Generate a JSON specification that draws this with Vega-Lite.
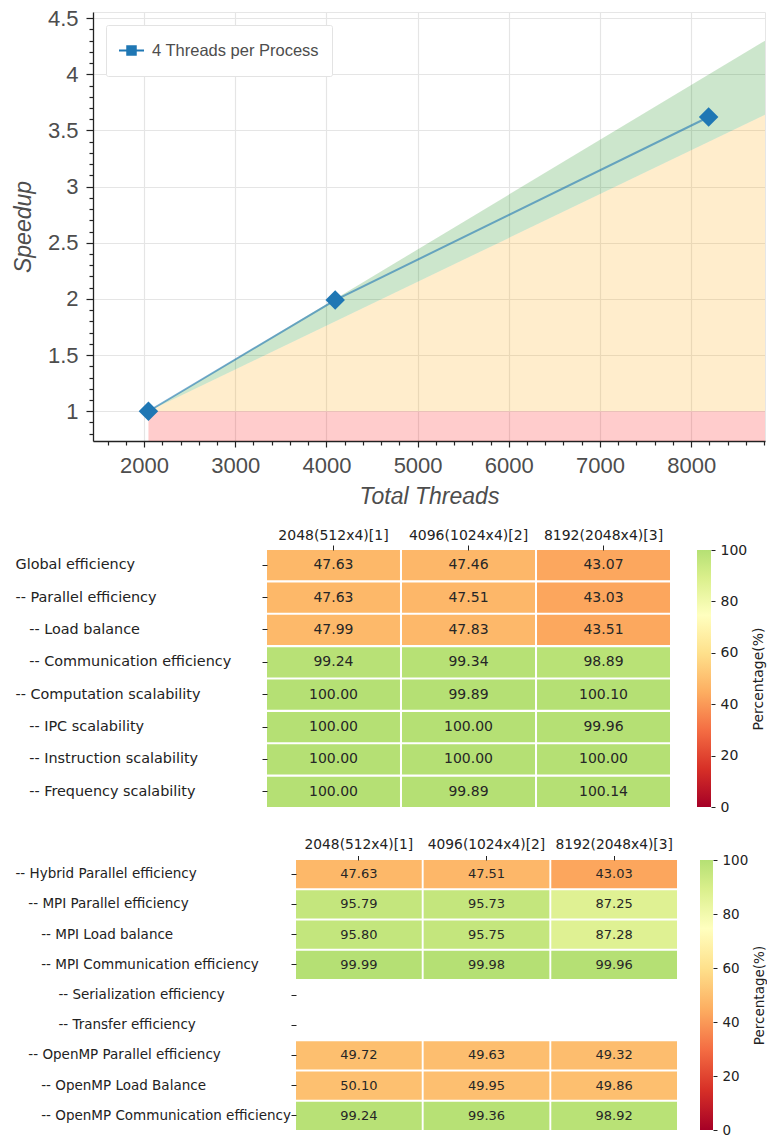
{
  "$schema": "https://vega.github.io/schema/vega-lite/v6.json",
  "padding": {"left": 10, "top": 6, "right": 0, "bottom": 0},
  "background": "white",
  "config": {"view": {"stroke": null}, "font": "DejaVu Sans"},
  "datasets": {
    "dummy": [{"a": 0}],
    "bands": [
      {"band": "red", "t": 2048, "s": 0.735, "s2": 1},
      {"band": "red", "t": 8810, "s": 0.735, "s2": 1},
      {"band": "orange", "t": 2048, "s": 1, "s2": 1},
      {"band": "orange", "t": 8810, "s": 1, "s2": 3.64},
      {"band": "green", "t": 2048, "s": 1, "s2": 1},
      {"band": "green", "t": 8810, "s": 3.64, "s2": 4.3}
    ],
    "speed": [
      {"t": 2048, "s": 1.0, "series": "4 Threads per Process"},
      {"t": 4096, "s": 1.99, "series": "4 Threads per Process"},
      {"t": 8192, "s": 3.62, "series": "4 Threads per Process"}
    ],
    "h1": [
      {"m": "Global efficiency", "c": "2048(512x4)[1]", "v": 47.63},
      {"m": "Global efficiency", "c": "4096(1024x4)[2]", "v": 47.46},
      {"m": "Global efficiency", "c": "8192(2048x4)[3]", "v": 43.07},
      {"m": "-- Parallel efficiency", "c": "2048(512x4)[1]", "v": 47.63},
      {"m": "-- Parallel efficiency", "c": "4096(1024x4)[2]", "v": 47.51},
      {"m": "-- Parallel efficiency", "c": "8192(2048x4)[3]", "v": 43.03},
      {"m": "\u200b\u00a0\u00a0\u00a0-- Load balance", "c": "2048(512x4)[1]", "v": 47.99},
      {"m": "\u200b\u00a0\u00a0\u00a0-- Load balance", "c": "4096(1024x4)[2]", "v": 47.83},
      {"m": "\u200b\u00a0\u00a0\u00a0-- Load balance", "c": "8192(2048x4)[3]", "v": 43.51},
      {"m": "\u200b\u00a0\u00a0\u00a0-- Communication efficiency", "c": "2048(512x4)[1]", "v": 99.24},
      {"m": "\u200b\u00a0\u00a0\u00a0-- Communication efficiency", "c": "4096(1024x4)[2]", "v": 99.34},
      {"m": "\u200b\u00a0\u00a0\u00a0-- Communication efficiency", "c": "8192(2048x4)[3]", "v": 98.89},
      {"m": "-- Computation scalability", "c": "2048(512x4)[1]", "v": 100.00},
      {"m": "-- Computation scalability", "c": "4096(1024x4)[2]", "v": 99.89},
      {"m": "-- Computation scalability", "c": "8192(2048x4)[3]", "v": 100.10},
      {"m": "\u200b\u00a0\u00a0\u00a0-- IPC scalability", "c": "2048(512x4)[1]", "v": 100.00},
      {"m": "\u200b\u00a0\u00a0\u00a0-- IPC scalability", "c": "4096(1024x4)[2]", "v": 100.00},
      {"m": "\u200b\u00a0\u00a0\u00a0-- IPC scalability", "c": "8192(2048x4)[3]", "v": 99.96},
      {"m": "\u200b\u00a0\u00a0\u00a0-- Instruction scalability", "c": "2048(512x4)[1]", "v": 100.00},
      {"m": "\u200b\u00a0\u00a0\u00a0-- Instruction scalability", "c": "4096(1024x4)[2]", "v": 100.00},
      {"m": "\u200b\u00a0\u00a0\u00a0-- Instruction scalability", "c": "8192(2048x4)[3]", "v": 100.00},
      {"m": "\u200b\u00a0\u00a0\u00a0-- Frequency scalability", "c": "2048(512x4)[1]", "v": 100.00},
      {"m": "\u200b\u00a0\u00a0\u00a0-- Frequency scalability", "c": "4096(1024x4)[2]", "v": 99.89},
      {"m": "\u200b\u00a0\u00a0\u00a0-- Frequency scalability", "c": "8192(2048x4)[3]", "v": 100.14}
    ],
    "h2": [
      {"m": "-- Hybrid Parallel efficiency", "c": "2048(512x4)[1]", "v": 47.63},
      {"m": "-- Hybrid Parallel efficiency", "c": "4096(1024x4)[2]", "v": 47.51},
      {"m": "-- Hybrid Parallel efficiency", "c": "8192(2048x4)[3]", "v": 43.03},
      {"m": "\u200b\u00a0\u00a0\u00a0-- MPI Parallel efficiency", "c": "2048(512x4)[1]", "v": 95.79},
      {"m": "\u200b\u00a0\u00a0\u00a0-- MPI Parallel efficiency", "c": "4096(1024x4)[2]", "v": 95.73},
      {"m": "\u200b\u00a0\u00a0\u00a0-- MPI Parallel efficiency", "c": "8192(2048x4)[3]", "v": 87.25},
      {"m": "\u200b\u00a0\u00a0\u00a0\u00a0\u00a0\u00a0-- MPI Load balance", "c": "2048(512x4)[1]", "v": 95.80},
      {"m": "\u200b\u00a0\u00a0\u00a0\u00a0\u00a0\u00a0-- MPI Load balance", "c": "4096(1024x4)[2]", "v": 95.75},
      {"m": "\u200b\u00a0\u00a0\u00a0\u00a0\u00a0\u00a0-- MPI Load balance", "c": "8192(2048x4)[3]", "v": 87.28},
      {"m": "\u200b\u00a0\u00a0\u00a0\u00a0\u00a0\u00a0-- MPI Communication efficiency", "c": "2048(512x4)[1]", "v": 99.99},
      {"m": "\u200b\u00a0\u00a0\u00a0\u00a0\u00a0\u00a0-- MPI Communication efficiency", "c": "4096(1024x4)[2]", "v": 99.98},
      {"m": "\u200b\u00a0\u00a0\u00a0\u00a0\u00a0\u00a0-- MPI Communication efficiency", "c": "8192(2048x4)[3]", "v": 99.96},
      {"m": "\u200b\u00a0\u00a0\u00a0-- OpenMP Parallel efficiency", "c": "2048(512x4)[1]", "v": 49.72},
      {"m": "\u200b\u00a0\u00a0\u00a0-- OpenMP Parallel efficiency", "c": "4096(1024x4)[2]", "v": 49.63},
      {"m": "\u200b\u00a0\u00a0\u00a0-- OpenMP Parallel efficiency", "c": "8192(2048x4)[3]", "v": 49.32},
      {"m": "\u200b\u00a0\u00a0\u00a0\u00a0\u00a0\u00a0-- OpenMP Load Balance", "c": "2048(512x4)[1]", "v": 50.10},
      {"m": "\u200b\u00a0\u00a0\u00a0\u00a0\u00a0\u00a0-- OpenMP Load Balance", "c": "4096(1024x4)[2]", "v": 49.95},
      {"m": "\u200b\u00a0\u00a0\u00a0\u00a0\u00a0\u00a0-- OpenMP Load Balance", "c": "8192(2048x4)[3]", "v": 49.86},
      {"m": "\u200b\u00a0\u00a0\u00a0\u00a0\u00a0\u00a0-- OpenMP Communication efficiency", "c": "2048(512x4)[1]", "v": 99.24},
      {"m": "\u200b\u00a0\u00a0\u00a0\u00a0\u00a0\u00a0-- OpenMP Communication efficiency", "c": "4096(1024x4)[2]", "v": 99.36},
      {"m": "\u200b\u00a0\u00a0\u00a0\u00a0\u00a0\u00a0-- OpenMP Communication efficiency", "c": "8192(2048x4)[3]", "v": 98.92}
    ]
  },
  "spacing": 19,
  "vconcat": [
    {
      "spacing": 0,
      "resolve": {"scale": {"color": "independent"}, "legend": {"color": "independent"}},
      "hconcat": [
        {"width": 1, "height": 1, "data": {"name": "dummy"}, "mark": {"type": "point", "opacity": 0, "size": 0}, "encoding": {}},
        {
          "width": 672,
          "height": 429,
          "view": {"stroke": "#e6e6e6"},
          "encoding": {
            "x": {
              "field": "t", "type": "quantitative", "title": "Total Threads",
              "scale": {"domain": [1440, 8810], "nice": false, "zero": false},
              "axis": {
                "values": [1600,1800,2000,2200,2400,2600,2800,3000,3200,3400,3600,3800,4000,4200,4400,4600,4800,5000,5200,5400,5600,5800,6000,6200,6400,6600,6800,7000,7200,7400,7600,7800,8000,8200,8400,8600,8800],
                "labelExpr": "datum.value % 1000 === 0 ? format(datum.value, 'd') : ''",
                "labelFont": "Liberation Sans", "labelFontSize": 22, "labelColor": "#4d4d4d",
                "labelPadding": 8, "labelOverlap": false, "labelFlush": false,
                "tickSize": {"condition": {"test": "datum.value % 1000 === 0", "value": 6}, "value": 4},
                "tickColor": "#222222", "tickWidth": 1.2,
                "domainColor": "#222222", "domainWidth": 1.3,
                "grid": true, "gridColor": "#e5e5e5", "gridWidth": 1.2,
                "gridOpacity": {"condition": {"test": "datum.value % 1000 === 0", "value": 1}, "value": 0},
                "titleFont": "Liberation Sans", "titleFontSize": 23, "titleFontStyle": "italic",
                "titleFontWeight": "normal", "titleColor": "#4d4d4d", "titlePadding": 9
              }
            },
            "y": {
              "field": "s", "type": "quantitative", "title": "Speedup", "stack": null,
              "scale": {"domain": [0.735, 4.555], "nice": false, "zero": false},
              "axis": {
                "values": [0.8,0.9,1,1.1,1.2,1.3,1.4,1.5,1.6,1.7,1.8,1.9,2,2.1,2.2,2.3,2.4,2.5,2.6,2.7,2.8,2.9,3,3.1,3.2,3.3,3.4,3.5,3.6,3.7,3.8,3.9,4,4.1,4.2,4.3,4.4,4.5],
                "labelExpr": "abs(datum.value*2 - round(datum.value*2)) < 0.001 ? format(datum.value, '~g') : ''",
                "labelFont": "Liberation Sans", "labelFontSize": 22, "labelColor": "#4d4d4d",
                "labelPadding": 8, "labelOverlap": false, "labelFlush": false,
                "tickSize": {"condition": {"test": "abs(datum.value*2 - round(datum.value*2)) < 0.001", "value": 7}, "value": 4},
                "tickColor": "#222222", "tickWidth": 1.2,
                "domainColor": "#222222", "domainWidth": 1.3,
                "grid": true, "gridColor": "#e5e5e5", "gridWidth": 1.2,
                "gridOpacity": {"condition": {"test": "abs(datum.value*2 - round(datum.value*2)) < 0.001", "value": 1}, "value": 0},
                "titleFont": "Liberation Sans", "titleFontSize": 23, "titleFontStyle": "italic",
                "titleFontWeight": "normal", "titleColor": "#4d4d4d", "titlePadding": 12
              }
            }
          },
          "layer": [
            {
              "data": {"name": "bands"},
              "mark": {"type": "area", "opacity": 0.2, "clip": true},
              "encoding": {
                "y2": {"field": "s2"},
                "fill": {"field": "band", "type": "nominal", "scale": {"domain": ["red", "orange", "green"], "range": ["#ff0000", "#ffa500", "#008000"]}, "legend": null}
              }
            },
            {
              "data": {"name": "speed"},
              "mark": {"type": "line", "color": "#1f77b4", "opacity": 0.6, "strokeWidth": 2},
              "encoding": {}
            },
            {
              "data": {"name": "speed"},
              "mark": {"type": "point", "shape": "diamond", "filled": true, "size": 380, "opacity": 1},
              "encoding": {
                "color": {
                  "field": "series", "type": "nominal",
                  "scale": {"range": ["#1f77b4"]},
                  "legend": {
                    "title": null, "orient": "top-left", "offset": 13, "padding": 13,
                    "fillColor": "white", "strokeColor": "#e3e3e3", "cornerRadius": 2,
                    "labelFont": "Liberation Sans", "labelFontSize": 16.5, "labelColor": "#4d4d4d", "labelLimit": 400,
                    "labelOffset": 8, "symbolSize": 625, "symbolStrokeWidth": 0, "symbolOpacity": 1,
                    "symbolType": "M0,-1V1M-1,-0.08H-0.42V-0.42H0.42V-0.08H1V0.08H0.42V0.42H-0.42V0.08H-1Z",
                    "encode": {"symbols": {"update": {"shape": {"value": "M0,-1V1M-1,-0.08H-0.42V-0.42H0.42V-0.08H1V0.08H0.42V0.42H-0.42V0.08H-1Z"}, "fill": {"value": "#1f77b4"}, "opacity": {"value": 1}}}}
                  }
                }
              }
            }
          ]
        }
      ]
    },
    {
      "spacing": 23,
      "vconcat": [
        {
          "spacing": 0,
          "hconcat": [
            {"width": 5, "height": 1, "data": {"name": "dummy"}, "mark": {"type": "point", "opacity": 0, "size": 0}, "encoding": {}},
            {
              "spacing": 27,
              "hconcat": [
                {
                  "width": 403,
                  "height": 257,
                  "data": {"name": "h1"},
                  "encoding": {
                    "x": {
                      "field": "c", "type": "nominal",
                      "scale": {"domain": ["2048(512x4)[1]", "4096(1024x4)[2]", "8192(2048x4)[3]"], "paddingInner": 0.015, "paddingOuter": 0},
                      "axis": {"orient": "top", "title": null, "labelAngle": 0, "labelFont": "DejaVu Sans", "labelFontSize": 14, "labelColor": "#222222", "tickSize": 5, "tickColor": "#222222", "labelPadding": 3, "domain": false}
                    },
                    "y": {
                      "field": "m", "type": "nominal",
                      "scale": {"domain": ["Global efficiency", "-- Parallel efficiency", "\u200b\u00a0\u00a0\u00a0-- Load balance", "\u200b\u00a0\u00a0\u00a0-- Communication efficiency", "-- Computation scalability", "\u200b\u00a0\u00a0\u00a0-- IPC scalability", "\u200b\u00a0\u00a0\u00a0-- Instruction scalability", "\u200b\u00a0\u00a0\u00a0-- Frequency scalability"], "paddingInner": 0.065, "paddingOuter": 0},
                      "axis": {"title": null, "labelAlign": "left", "labelPadding": 247, "tickSize": 5, "tickColor": "#222222", "labelFont": "DejaVu Sans", "labelFontSize": 14.4, "labelColor": "#222222", "domain": false, "labelLimit": 400}
                    }
                  },
                  "layer": [
                    {
                      "mark": {"type": "rect"},
                      "encoding": {
                        "color": {"field": "v", "type": "quantitative", "legend": null,
                          "scale": {"domain": [0, 14.93, 29.85, 44.78, 59.70, 74.63, 89.55, 100], "range": ["#a50026", "#d73027", "#f46d43", "#fdae61", "#fee08b", "#ffffbf", "#d9ef8b", "#b5e074"], "interpolate": "rgb", "clamp": true}}
                      }
                    },
                    {
                      "mark": {"type": "text", "font": "DejaVu Sans", "fontSize": 14, "color": "#262626", "baseline": "middle"},
                      "encoding": {"text": {"field": "v", "type": "quantitative", "format": ".2f"}}
                    }
                  ]
                },
                {
                  "width": 14,
                  "height": 257,
                  "data": {"values": [{"lo": 0, "hi": 100}]},
                  "mark": {"type": "rect", "color": {"gradient": "linear", "x1": 0, "y1": 1, "x2": 0, "y2": 0, "stops": [
                    {"offset": 0, "color": "#a50026"}, {"offset": 0.1493, "color": "#d73027"}, {"offset": 0.2985, "color": "#f46d43"}, {"offset": 0.4478, "color": "#fdae61"}, {"offset": 0.597, "color": "#fee08b"}, {"offset": 0.7463, "color": "#ffffbf"}, {"offset": 0.8955, "color": "#d9ef8b"}, {"offset": 1, "color": "#b5e074"}]}},
                  "encoding": {
                    "x": {"datum": 0, "type": "quantitative", "scale": {"domain": [0, 1]}, "axis": null},
                    "x2": {"datum": 1},
                    "y": {"field": "lo", "type": "quantitative", "scale": {"domain": [0, 100], "nice": false},
                      "axis": {"orient": "right", "values": [0, 20, 40, 60, 80, 100], "title": "Percentage(%)", "titleAngle": 270, "titleBaseline": "top", "titleFont": "DejaVu Sans", "titleFontSize": 14, "titleFontWeight": "normal", "titleColor": "#222222", "titlePadding": 5, "labelFont": "DejaVu Sans", "labelFontSize": 14, "labelColor": "#222222", "tickSize": 4, "tickColor": "#222222", "labelPadding": 5, "domain": false, "grid": false}},
                    "y2": {"field": "hi"}
                  }
                }
              ]
            }
          ]
        },
        {
          "spacing": 0,
          "hconcat": [
            {"width": 5, "height": 1, "data": {"name": "dummy"}, "mark": {"type": "point", "opacity": 0, "size": 0}, "encoding": {}},
            {
              "spacing": 23,
              "hconcat": [
                {
                  "width": 381,
                  "height": 270,
                  "data": {"name": "h2"},
                  "encoding": {
                    "x": {
                      "field": "c", "type": "nominal",
                      "scale": {"domain": ["2048(512x4)[1]", "4096(1024x4)[2]", "8192(2048x4)[3]"], "paddingInner": 0.015, "paddingOuter": 0},
                      "axis": {"orient": "top", "title": null, "labelAngle": 0, "labelFont": "DejaVu Sans", "labelFontSize": 13.8, "labelColor": "#222222", "tickSize": 4.5, "tickColor": "#222222", "labelPadding": 4, "domain": false}
                    },
                    "y": {
                      "field": "m", "type": "nominal",
                      "scale": {"domain": ["-- Hybrid Parallel efficiency", "\u200b\u00a0\u00a0\u00a0-- MPI Parallel efficiency", "\u200b\u00a0\u00a0\u00a0\u00a0\u00a0\u00a0-- MPI Load balance", "\u200b\u00a0\u00a0\u00a0\u00a0\u00a0\u00a0-- MPI Communication efficiency", "\u200b\u00a0\u00a0\u00a0\u00a0\u00a0\u00a0\u00a0\u00a0\u00a0\u00a0-- Serialization efficiency", "\u200b\u00a0\u00a0\u00a0\u00a0\u00a0\u00a0\u00a0\u00a0\u00a0\u00a0-- Transfer efficiency", "\u200b\u00a0\u00a0\u00a0-- OpenMP Parallel efficiency", "\u200b\u00a0\u00a0\u00a0\u00a0\u00a0\u00a0-- OpenMP Load Balance", "\u200b\u00a0\u00a0\u00a0\u00a0\u00a0\u00a0-- OpenMP Communication efficiency"], "paddingInner": 0.065, "paddingOuter": 0},
                      "axis": {"title": null, "labelAlign": "left", "labelPadding": 276, "tickSize": 5, "tickColor": "#222222", "labelFont": "DejaVu Sans", "labelFontSize": 13.5, "labelColor": "#222222", "domain": false, "labelLimit": 400}
                    }
                  },
                  "layer": [
                    {
                      "mark": {"type": "rect"},
                      "encoding": {
                        "color": {"field": "v", "type": "quantitative", "legend": null,
                          "scale": {"domain": [0, 14.93, 29.85, 44.78, 59.70, 74.63, 89.55, 100], "range": ["#a50026", "#d73027", "#f46d43", "#fdae61", "#fee08b", "#ffffbf", "#d9ef8b", "#b5e074"], "interpolate": "rgb", "clamp": true}}
                      }
                    },
                    {
                      "mark": {"type": "text", "font": "DejaVu Sans", "fontSize": 13, "color": "#262626", "baseline": "middle"},
                      "encoding": {"text": {"field": "v", "type": "quantitative", "format": ".2f"}}
                    }
                  ]
                },
                {
                  "width": 13,
                  "height": 270,
                  "data": {"values": [{"lo": 0, "hi": 100}]},
                  "mark": {"type": "rect", "color": {"gradient": "linear", "x1": 0, "y1": 1, "x2": 0, "y2": 0, "stops": [
                    {"offset": 0, "color": "#a50026"}, {"offset": 0.1493, "color": "#d73027"}, {"offset": 0.2985, "color": "#f46d43"}, {"offset": 0.4478, "color": "#fdae61"}, {"offset": 0.597, "color": "#fee08b"}, {"offset": 0.7463, "color": "#ffffbf"}, {"offset": 0.8955, "color": "#d9ef8b"}, {"offset": 1, "color": "#b5e074"}]}},
                  "encoding": {
                    "x": {"datum": 0, "type": "quantitative", "scale": {"domain": [0, 1]}, "axis": null},
                    "x2": {"datum": 1},
                    "y": {"field": "lo", "type": "quantitative", "scale": {"domain": [0, 100], "nice": false},
                      "axis": {"orient": "right", "values": [0, 20, 40, 60, 80, 100], "title": "Percentage(%)", "titleAngle": 270, "titleBaseline": "top", "titleFont": "DejaVu Sans", "titleFontSize": 13.5, "titleFontWeight": "normal", "titleColor": "#222222", "titlePadding": 5, "labelFont": "DejaVu Sans", "labelFontSize": 13.5, "labelColor": "#222222", "tickSize": 4, "tickColor": "#222222", "labelPadding": 5, "domain": false, "grid": false}},
                    "y2": {"field": "hi"}
                  }
                }
              ]
            }
          ]
        }
      ]
    }
  ]
}
